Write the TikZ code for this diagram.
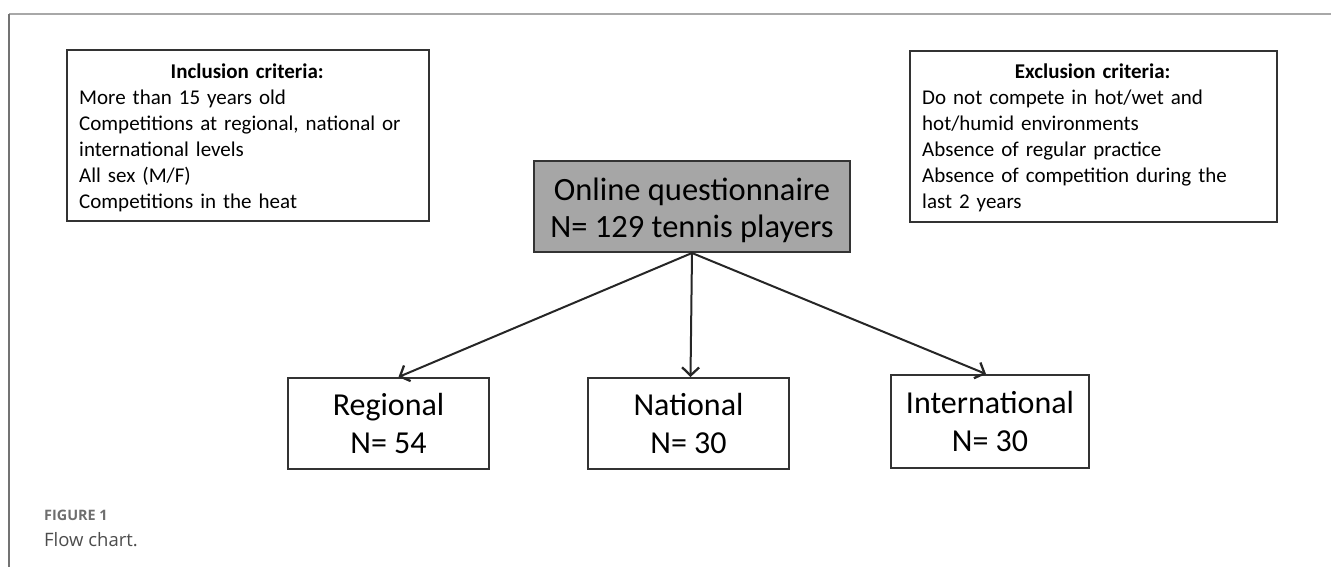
\documentclass[tikz,border=0pt]{standalone}
\usepackage{fontspec}
\setmainfont{Carlito}
\newfontfamily\capfont{Open Sans}
\usetikzlibrary{arrows.meta}
\definecolor{framegray}{HTML}{A8A8A8}
\definecolor{boxgray}{HTML}{A6A6A6}
\definecolor{capgray}{HTML}{6E6E6E}
\begin{document}
\begin{tikzpicture}[x=1pt,y=-1pt,
  critbox/.style={draw=black!80, line width=2pt, minimum width=#1, minimum height=171pt,
    inner sep=0pt, anchor=north west},
  crittext/.style={anchor=north west, inner sep=0pt, text width=#1, font=\fontsize{21}{26}\selectfont},
  mainbox/.style={draw=black!80, fill=boxgray, line width=2pt, minimum width=316pt, minimum height=91pt,
    anchor=north west},
  maintext/.style={align=center, font=\fontsize{32.5}{37}\selectfont, inner sep=0pt},
  levelbox/.style={draw=black!80, line width=2pt, minimum width=#1, minimum height=91pt,
    anchor=north west, align=center, font=\fontsize{32}{38}\selectfont},
  arr/.style={draw=black!85, line width=2pt, -{Straight Barb[length=8pt,width=17pt,line width=2.3pt]}}
]
\useasboundingbox (0,0) rectangle (1331,567);
% frame
\draw[framegray, line width=2pt] (9,14) -- (1331,14);
\draw[black!55, line width=1.2pt] (9,14) -- (9,567);

\node[critbox=362pt] (inc) at (66,49) {};
\node[crittext=336pt] (inct) at ([xshift=13pt,yshift=-15pt]inc.north west)
 {{\centering\textbf{Inclusion criteria:}\par}\raggedright
 More than 15 years old\\
 Competitions at regional, national or\\
 international levels\\
 All sex (M/F)\\
 Competitions in the heat\par};

\node[critbox=367pt] (exc) at (909,50) {};
\node[crittext=341pt] (exct) at ([xshift=13pt,yshift=-14pt]exc.north west)
 {{\centering\textbf{Exclusion criteria:}\par}\raggedright
 Do not compete in hot/wet and\\
 hot/humid environments\\
 Absence of regular practice\\
 Absence of competition during the\\
 last 2 years\par};

\node[mainbox] (q) at (533,160) {};
\node[maintext] (qt) at ([yshift=-4pt]q.center) {Online questionnaire\\N= 129 tennis players};

\node[levelbox=201pt] (reg) at (287,377) {Regional\\N= 54};
\node[levelbox=201pt] (nat) at (587,377) {National\\N= 30};
\node[levelbox=198pt, minimum height=93pt] (int) at (890,374) {International\\N= 30};

\draw[arr] (q.south) -- ([xshift=10pt]reg.north);
\draw[arr] (q.south) -- ([xshift=2pt]nat.north);
\draw[arr] (q.south) -- ([xshift=-4pt]int.north);

\node[anchor=west, font=\capfont\bfseries\fontsize{14.4}{16}\selectfont, text=capgray, inner sep=0pt] (fig) at (44,515) {FIGURE 1};
\node[anchor=west, font=\capfont\fontsize{18.5}{22}\selectfont, text=black!70, inner sep=0pt] (cap) at (44,540) {Flow chart.};
\end{tikzpicture}
\end{document}
